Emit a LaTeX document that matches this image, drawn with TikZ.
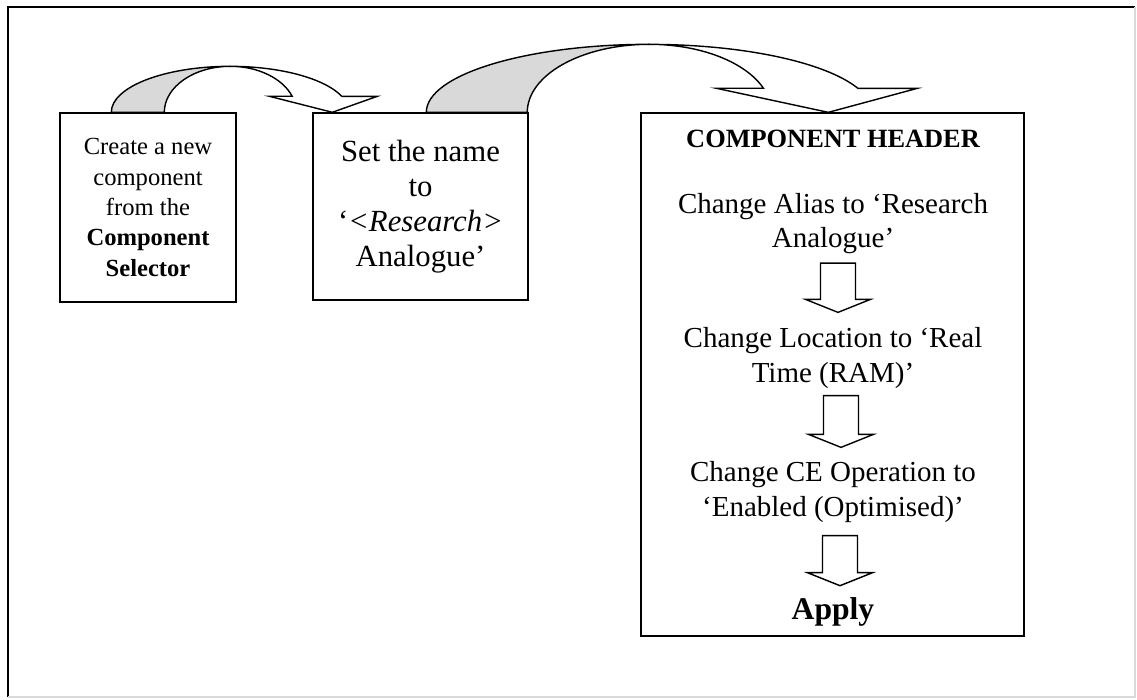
\documentclass[tikz,border=0pt]{standalone}
\usepackage{fontspec}
\setmainfont{Liberation Serif}
\usetikzlibrary{positioning,calc}

\begin{document}
\begin{tikzpicture}[
      x=0.02cm, y=0.02cm,
      box/.style={rectangle, draw, line width=0.8pt, align=center, inner sep=0pt},
      txt/.style={align=center, inner sep=0pt, font=\fontsize{16.5pt}{19.5pt}\selectfont},
      hdr/.style={inner sep=0pt, font=\fontsize{15pt}{18pt}\selectfont\bfseries},
      backface/.style={draw, line width=0.8pt, fill=black!15, line join=round},
      frontface/.style={draw, line width=0.8pt, fill=white, line join=miter},
      blockdown/.style={draw, line width=0.8pt, fill=white, line join=miter, to path={
        ($(\tikztostart)+(-17.5,0)$) -- ($(\tikztotarget)+(-17.5,13)$) -- ($(\tikztotarget)+(-32.5,13)$)
        -- (\tikztotarget) -- ($(\tikztotarget)+(32.5,13)$) -- ($(\tikztotarget)+(17.5,13)$)
        -- ($(\tikztostart)+(17.5,0)$) -- cycle}},
    ]
    \useasboundingbox (0,0) rectangle (1137,700);
    \draw[line width=0.8pt] (1135,693) -- (8,693) -- (8,3);
    \draw[line width=0.8pt, black!15] (8,3) -- (1135,3) -- (1135,693);

    \node[box, minimum width=3.52cm, minimum height=3.78cm, font=\fontsize{14pt}{17.3pt}\selectfont]
      (create) at (148,492.5) {Create a new\\component\\from the\\\textbf{Component}\\\textbf{Selector}};
    \node[box, minimum width=4.3cm, minimum height=3.74cm, font=\fontsize{17.5pt}{20pt}\selectfont]
      (setname) at (420.5,493.5) {Set the name\\to\\‘\textit{<Research>}\\Analogue’};
    \node[box, minimum width=7.66cm, minimum height=10.46cm] (hdrbox) at (832.5,325.5) {};

    \node[hdr, anchor=base] (hdr) at (833,552) {COMPONENT HEADER};
    \node[txt] (alias) at (833,476.5) {Change Alias to ‘Research\\Analogue’};
    \node[txt] (loc)   at (833,342)   {Change Location to ‘Real\\Time (RAM)’};
    \node[txt] (ceop)  at (833,208)   {Change CE Operation to\\‘Enabled (Optimised)’};
    \node[hdr, anchor=base, font=\fontsize{18pt}{21pt}\selectfont\bfseries] (apply) at (833,80) {Apply};

    \draw[blockdown] ($(alias.south)+(5,-9)$) to ($(loc.north)+(5,15)$);
    \draw[blockdown] ($(loc.south)+(8,-7)$) to ($(ceop.north)+(8,14)$);
    \draw[blockdown] ($(ceop.south)+(7,-13)$) to ($(apply.north)+(7,12)$);

    % curved arrow from the first box to the second
    \draw[backface] ($(create.north west)+(52,0)$)
      arc[start angle=180, end angle=90, x radius=2.38cm, y radius=0.92cm]
      arc[start angle=90, end angle=180, x radius=1.32cm, y radius=0.92cm] -- cycle;
    \draw[frontface] ($(create.north west)+(171,46)$)
      arc[start angle=90, end angle=20.4, x radius=1.32cm, y radius=0.92cm]
      -- ++(-22.9,0) -- ($(setname.north west)+(20,0)$) -- ++(45,16) -- ++(-35.5,0)
      arc[start angle=20.4, end angle=90, x radius=2.38cm, y radius=0.92cm] -- cycle;

    % curved arrow from the second box to the header box
    \draw[backface] ($(setname.north west)+(114,0)$)
      arc[start angle=180, end angle=90, x radius=4.46cm, y radius=1.36cm]
      arc[start angle=90, end angle=180, x radius=2.44cm, y radius=1.36cm] -- cycle;
    \draw[frontface] ($(setname.north west)+(337,68)$)
      arc[start angle=90, end angle=20.7, x radius=2.44cm, y radius=1.36cm]
      -- ++(-47.1,0) -- ($(hdrbox.north west)+(188,0)$) -- ++(89,24) -- ++(-59.4,0)
      arc[start angle=20.7, end angle=90, x radius=4.46cm, y radius=1.36cm] -- cycle;
  \end{tikzpicture}
\end{document}
